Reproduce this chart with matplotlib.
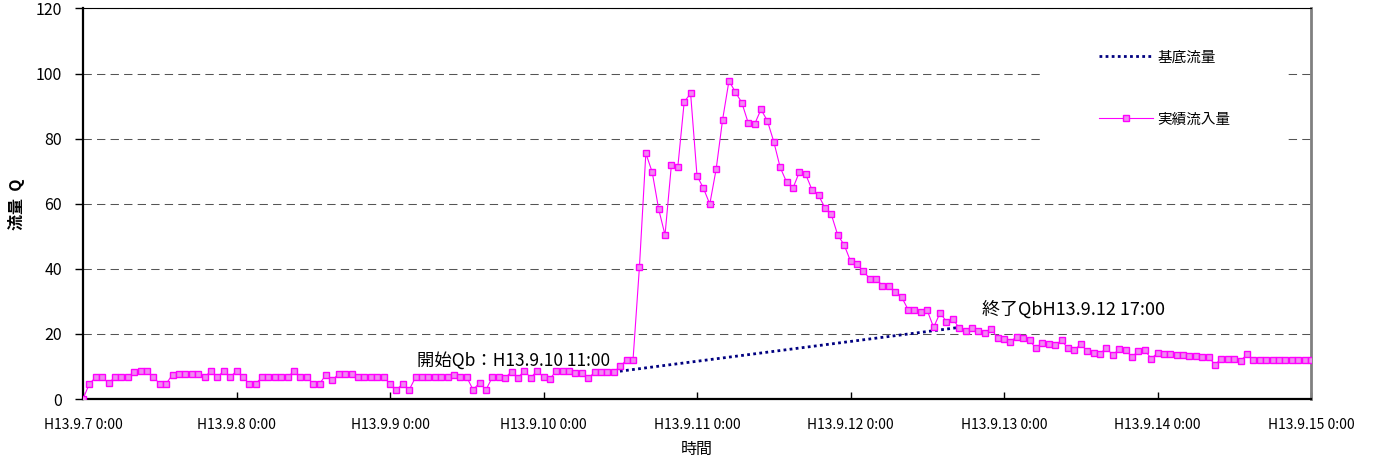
import matplotlib
matplotlib.use('Agg')
import matplotlib.pyplot as plt
from matplotlib.patches import Rectangle

plt.rcParams['font.family'] = ['Noto Sans CJK JP', 'DejaVu Sans']

# hourly inflow from H13.9.7 0:00 to H13.9.15 0:00
inflow = [
    0.0, 4.7, 6.7, 6.7, 4.9, 6.7, 6.7, 6.7, 8.4, 8.6, 8.6, 6.7,
    4.7, 4.7, 7.5, 7.8, 7.8, 7.8, 7.8, 6.7, 8.6, 6.7, 8.6, 6.7,
    8.6, 6.7, 4.7, 4.7, 6.7, 6.7, 6.7, 6.7, 6.7, 8.6, 6.7, 6.7,
    4.7, 4.7, 7.5, 5.8, 7.8, 7.8, 7.8, 6.7, 6.7, 6.7, 6.7, 6.7,
    4.7, 2.8, 4.7, 2.8, 6.7, 6.7, 6.7, 6.7, 6.7, 6.7, 7.4, 6.7,
    6.7, 2.8, 5.0, 2.8, 6.7, 6.9, 6.5, 8.4, 6.5, 8.7, 6.5, 8.7,
    6.7, 6.2, 8.6, 8.6, 8.6, 8.0, 8.0, 6.3, 8.3, 8.3, 8.3, 8.3,
    10.0, 12.1, 12.1, 40.6, 75.5, 69.7, 58.4, 50.4, 72.0, 71.3, 91.3, 93.9,
    68.6, 64.8, 59.9, 70.7, 85.8, 97.8, 94.3, 91.1, 84.9, 84.4, 89.0, 85.5,
    79.1, 71.2, 66.7, 64.8, 69.7, 69.0, 64.2, 62.6, 58.8, 56.7, 50.4, 47.4,
    42.4, 41.5, 39.3, 37.0, 37.0, 34.8, 34.8, 33.0, 31.3, 27.5, 27.5, 26.8,
    27.2, 22.0, 26.5, 23.8, 24.6, 21.8, 20.8, 21.7, 20.8, 20.4, 21.6, 18.7,
    18.3, 17.6, 19.2, 18.8, 18.0, 15.6, 17.3, 16.9, 16.6, 18.0, 15.6, 15.0,
    16.9, 14.7, 14.2, 13.9, 15.7, 13.5, 15.3, 15.1, 12.9, 14.7, 15.1, 12.4,
    14.1, 13.9, 13.8, 13.6, 13.4, 13.2, 13.1, 13.0, 12.8, 10.6, 12.4, 12.3,
    12.2, 11.8, 13.7, 12.1, 12.1, 12.1, 12.1, 12.1, 12.1, 12.1, 12.1, 12.1,
    12.1,
]
hours = list(range(len(inflow)))

# base flow: straight line between start (9.10 11:00) and end (9.12 17:00)
base_hours = [83, 137]
base_flow = [8.3, 22.0]

tick_hours = [0, 24, 48, 72, 96, 120, 144, 168, 192]
tick_labels = ['H13.9.7 0:00', 'H13.9.8 0:00', 'H13.9.9 0:00', 'H13.9.10 0:00',
               'H13.9.11 0:00', 'H13.9.12 0:00', 'H13.9.13 0:00', 'H13.9.14 0:00',
               'H13.9.15 0:00']
y_ticks = [0, 20, 40, 60, 80, 100, 120]

fig = plt.figure(figsize=(13.76, 4.61), dpi=100)
ax = fig.add_axes([83 / 1376, 62 / 461, 1228 / 1376, 390.5 / 461])

ax.plot(base_hours, base_flow, color='#000080', lw=2, linestyle=(0, (1, 1.2)),
        label='基底流量', zorder=3)
ax.plot(hours, inflow, color='#FF00FF', lw=0.8, marker='s', markersize=4.5,
        markerfacecolor='#F08AF0', markeredgecolor='#FF00FF', markeredgewidth=1,
        label='実績流入量', zorder=4)

ax.set_xlim(0, 192)
ax.set_ylim(0, 120)
ax.set_xticks(tick_hours)
ax.set_xticklabels(tick_labels)
ax.set_yticks(y_ticks)
ax.tick_params(axis='x', direction='in', length=5, width=1, pad=14, labelsize=10)
ax.tick_params(axis='y', direction='out', length=6, width=1, pad=9, labelsize=11.5)

ax.yaxis.grid(True, color='#555555', lw=0.75, linestyle=(0, (8, 5)))
ax.set_axisbelow(True)

for side in ['left', 'bottom']:
    ax.spines[side].set_linewidth(1.6)
    ax.spines[side].set_color('black')
ax.spines['top'].set_linewidth(0.8)
ax.spines['right'].set_linewidth(2)
ax.spines['right'].set_color('#808080')

ax.set_xlabel('時間', fontsize=11.5, labelpad=6)
ax.set_ylabel('流量  Q', fontsize=11.5, labelpad=8, fontweight='bold')

# white area behind the legend hides the grid there
ax.add_patch(Rectangle((0.782, 0.65), 0.196, 0.33, transform=ax.transAxes,
                       facecolor='white', edgecolor='none', zorder=1.5))
leg = ax.legend(loc='upper left', bbox_to_anchor=(0.827, 0.893), frameon=False,
                borderpad=0, borderaxespad=0, fontsize=10.5, handlelength=3.7,
                handletextpad=0.35, labelspacing=3.3, numpoints=1)

ax.text(52.2, 11.8, '開始Qb：H13.9.10 11:00', fontsize=12.5, va='center', ha='left', zorder=5)
ax.text(140.6, 27.5, '終了QbH13.9.12 17:00', fontsize=13, va='center', ha='left', zorder=5)

fig.savefig('out.png', dpi=100)
